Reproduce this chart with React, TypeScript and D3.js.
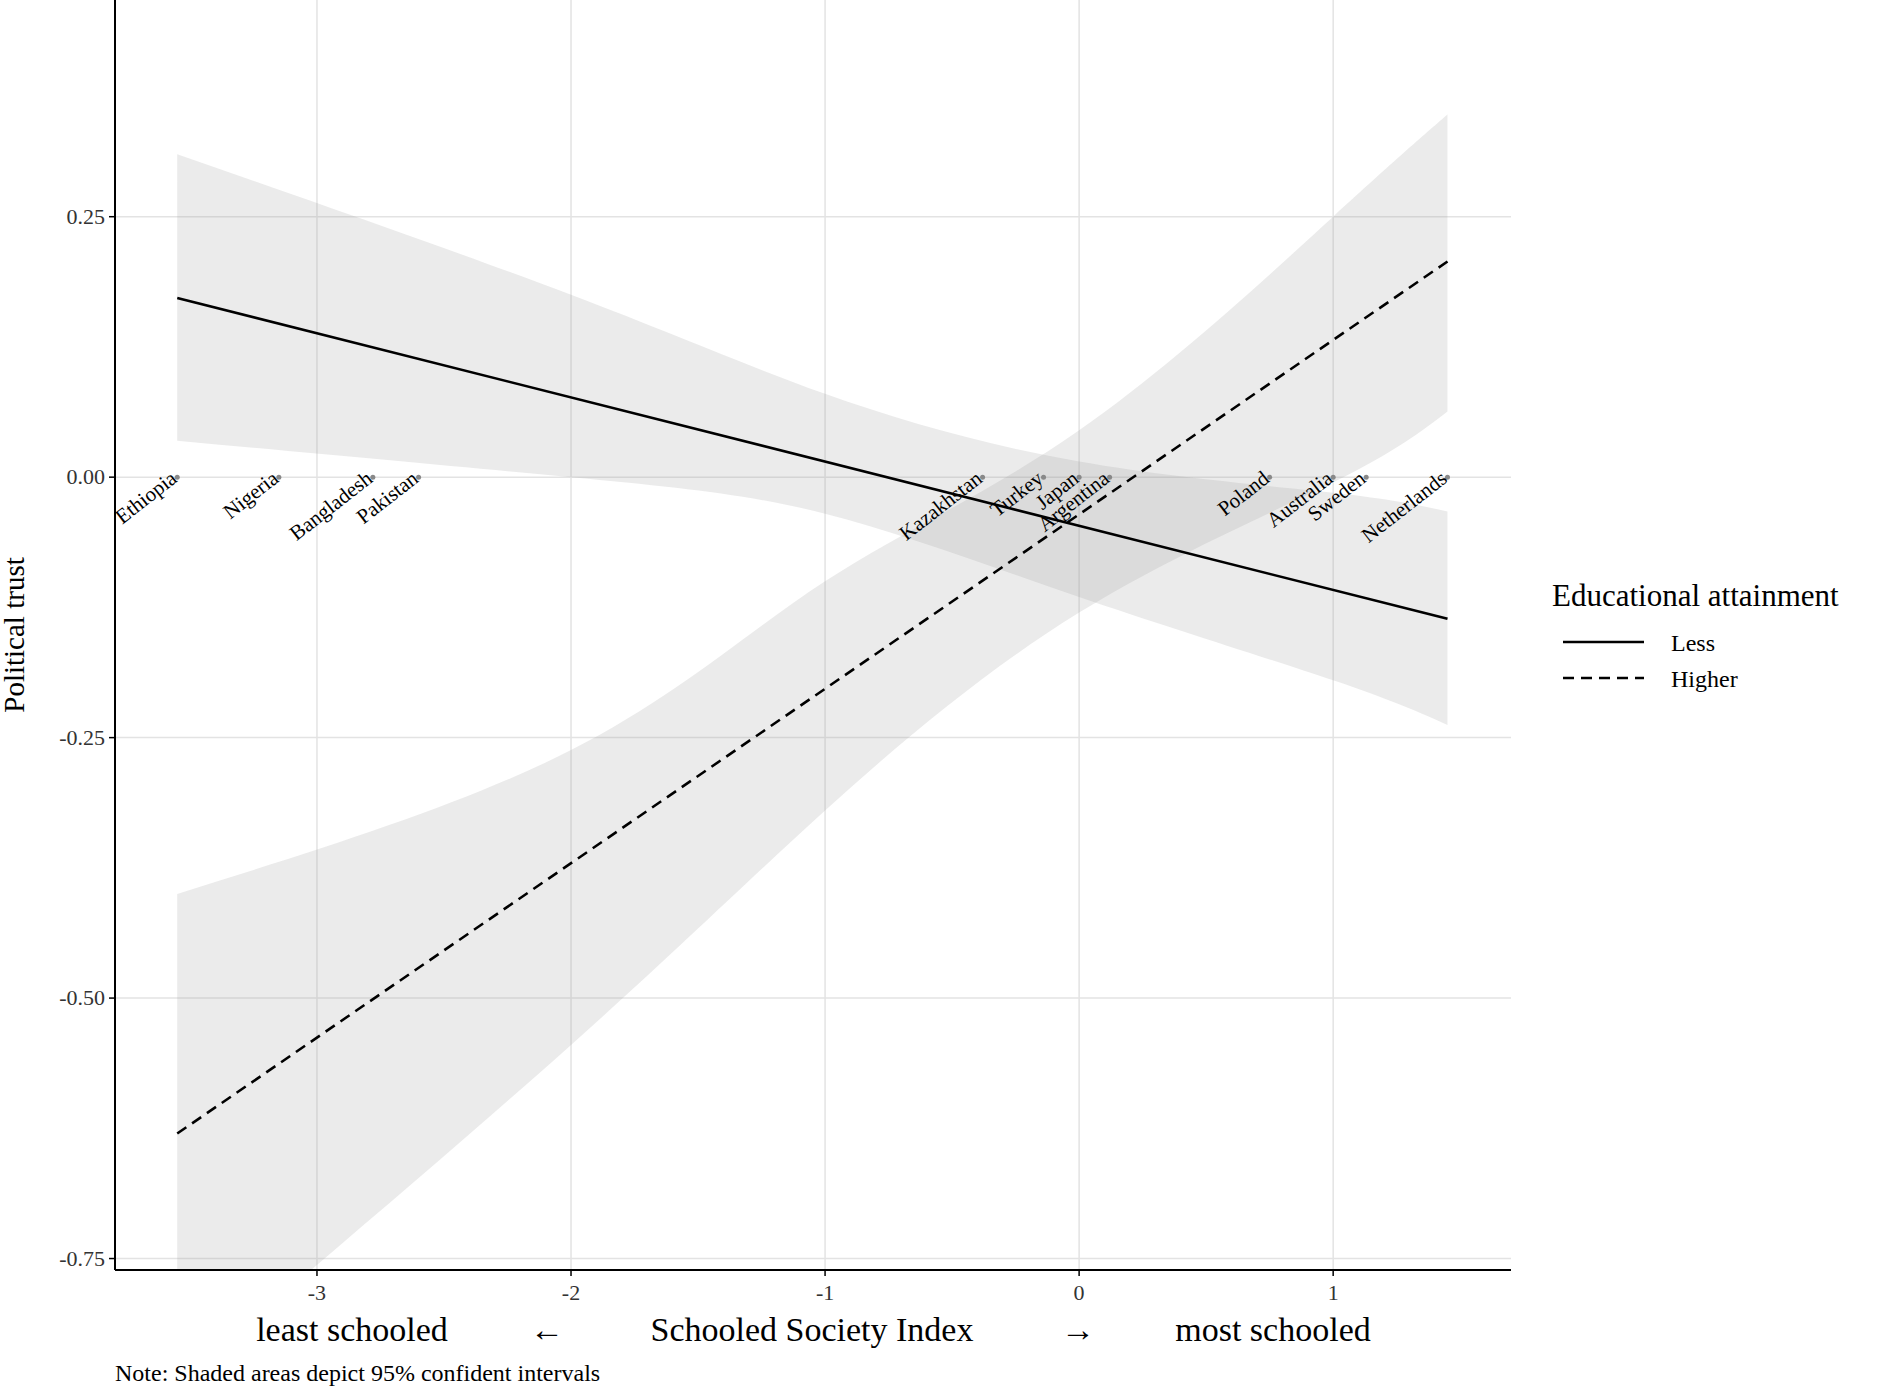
import * as d3 from "d3";

const lessLine = [
  { x: -3.55, y: 0.172 },
  { x: 1.45, y: -0.136 },
];
const higherLine = [
  { x: -3.55, y: -0.63 },
  { x: 1.45, y: 0.207 },
];
const lessBand = [
  { x: -3.55, lo: 0.035, hi: 0.31 },
  { x: -2, lo: 0.0, hi: 0.175 },
  { x: -1, lo: -0.035, hi: 0.08 },
  { x: 0, lo: -0.115, hi: 0.015 },
  { x: 1, lo: -0.195, hi: -0.015 },
  { x: 1.45, lo: -0.238, hi: -0.033 },
];
const higherBand = [
  { x: -3.55, lo: -0.87, hi: -0.4 },
  { x: -2, lo: -0.545, hi: -0.262 },
  { x: -1, lo: -0.32, hi: -0.1 },
  { x: 0, lo: -0.13, hi: 0.045 },
  { x: 1, lo: -0.005, hi: 0.25 },
  { x: 1.45, lo: 0.063, hi: 0.348 },
];
const countries = ["Ethiopia", "Nigeria", "Bangladesh", "Pakistan", "Kazakhstan", "Turkey", "Japan", "Argentina", "Poland", "Australia", "Sweden", "Netherlands"];
const countryX = [-3.55, -3.15, -2.78, -2.6, -0.38, -0.14, 0.0, 0.12, 0.75, 1.0, 1.13, 1.45];
const xTicks = [-3, -2, -1, 0, 1];
const yTicks = [0.25, 0, -0.25, -0.5, -0.75];

const left = 115, right = 1511, top = 0, bottom = 1270;
const font = "Liberation Serif, Times New Roman, serif";

export default function App() {
  const x = d3.scaleLinear().domain([-3.795, 1.7]).range([left, right]);
  const y = d3.scaleLinear().domain([0.458, -0.761]).range([top, bottom]);
  const area = d3.area<{ x: number; lo: number; hi: number }>()
    .x((d) => x(d.x)).y0((d) => y(d.lo)).y1((d) => y(d.hi)).curve(d3.curveNatural);
  const line = d3.line<{ x: number; y: number }>().x((d) => x(d.x)).y((d) => y(d.y));
  return (
    <svg width={1896} height={1393} style={{ position: "absolute", left: 0, top: 0, background: "#fff", fontFamily: font }}>
      <defs>
        <clipPath id="panel"><rect x={left} y={top} width={right - left} height={bottom - top} /></clipPath>
      </defs>
      {xTicks.map((t) => <line key={t} x1={x(t)} x2={x(t)} y1={top} y2={bottom} stroke="#e3e3e3" strokeWidth={1.5} />)}
      {yTicks.map((t) => <line key={t} x1={left} x2={right} y1={y(t)} y2={y(t)} stroke="#e3e3e3" strokeWidth={1.5} />)}
      <g clipPath="url(#panel)">
        <path d={area(lessBand)!} fill="#999" fillOpacity={0.2} />
        <path d={area(higherBand)!} fill="#999" fillOpacity={0.2} />
      </g>
      <path d={line(lessLine)!} stroke="#000" strokeWidth={2.6} fill="none" />
      <path d={line(higherLine)!} stroke="#000" strokeWidth={2.6} strokeDasharray="11,7" fill="none" />
      {countries.map((c, i) => (
        <g key={c}>
          <circle cx={x(countryX[i])} cy={y(0)} r={2.5} fill="#888" />
          <text transform={`translate(${x(countryX[i]) - 2},${y(0)}) rotate(-38)`} textAnchor="end" dominantBaseline="middle" fontSize={21}>{c}</text>
        </g>
      ))}
      <line x1={left} x2={left} y1={top} y2={bottom} stroke="#000" strokeWidth={2} />
      <line x1={left} x2={right} y1={bottom} y2={bottom} stroke="#000" strokeWidth={2} />
      {xTicks.map((t) => (
        <g key={t}>
          <line x1={x(t)} x2={x(t)} y1={bottom} y2={bottom + 6} stroke="#000" strokeWidth={1.5} />
          <text x={x(t)} y={bottom + 30} textAnchor="middle" fontSize={22} fill="#333">{t}</text>
        </g>
      ))}
      {yTicks.map((t) => (
        <g key={t}>
          <line x1={left - 6} x2={left} y1={y(t)} y2={y(t)} stroke="#000" strokeWidth={1.5} />
          <text x={left - 10} y={y(t) + 7} textAnchor="end" fontSize={22} fill="#333">{t.toFixed(2)}</text>
        </g>
      ))}
      <text transform={`translate(24,${(top + bottom) / 2}) rotate(-90)`} textAnchor="middle" fontSize={29}>Political trust</text>
      <text x={352} y={1341} textAnchor="middle" fontSize={34}>least schooled</text>
      <text x={547} y={1341} textAnchor="middle" fontSize={34}>←</text>
      <text x={812} y={1341} textAnchor="middle" fontSize={34}>Schooled Society Index</text>
      <text x={1078} y={1341} textAnchor="middle" fontSize={34}>→</text>
      <text x={1273} y={1341} textAnchor="middle" fontSize={34}>most schooled</text>
      <text x={115} y={1381} fontSize={24}>Note: Shaded areas depict 95% confident intervals</text>
      <text x={1552} y={606} fontSize={31}>Educational attainment</text>
      <line x1={1563} x2={1644} y1={642} y2={642} stroke="#000" strokeWidth={2.6} />
      <line x1={1563} x2={1644} y1={678} y2={678} stroke="#000" strokeWidth={2.6} strokeDasharray="11,7" />
      <text x={1671} y={651} fontSize={24}>Less</text>
      <text x={1671} y={687} fontSize={24}>Higher</text>
    </svg>
  );
}
